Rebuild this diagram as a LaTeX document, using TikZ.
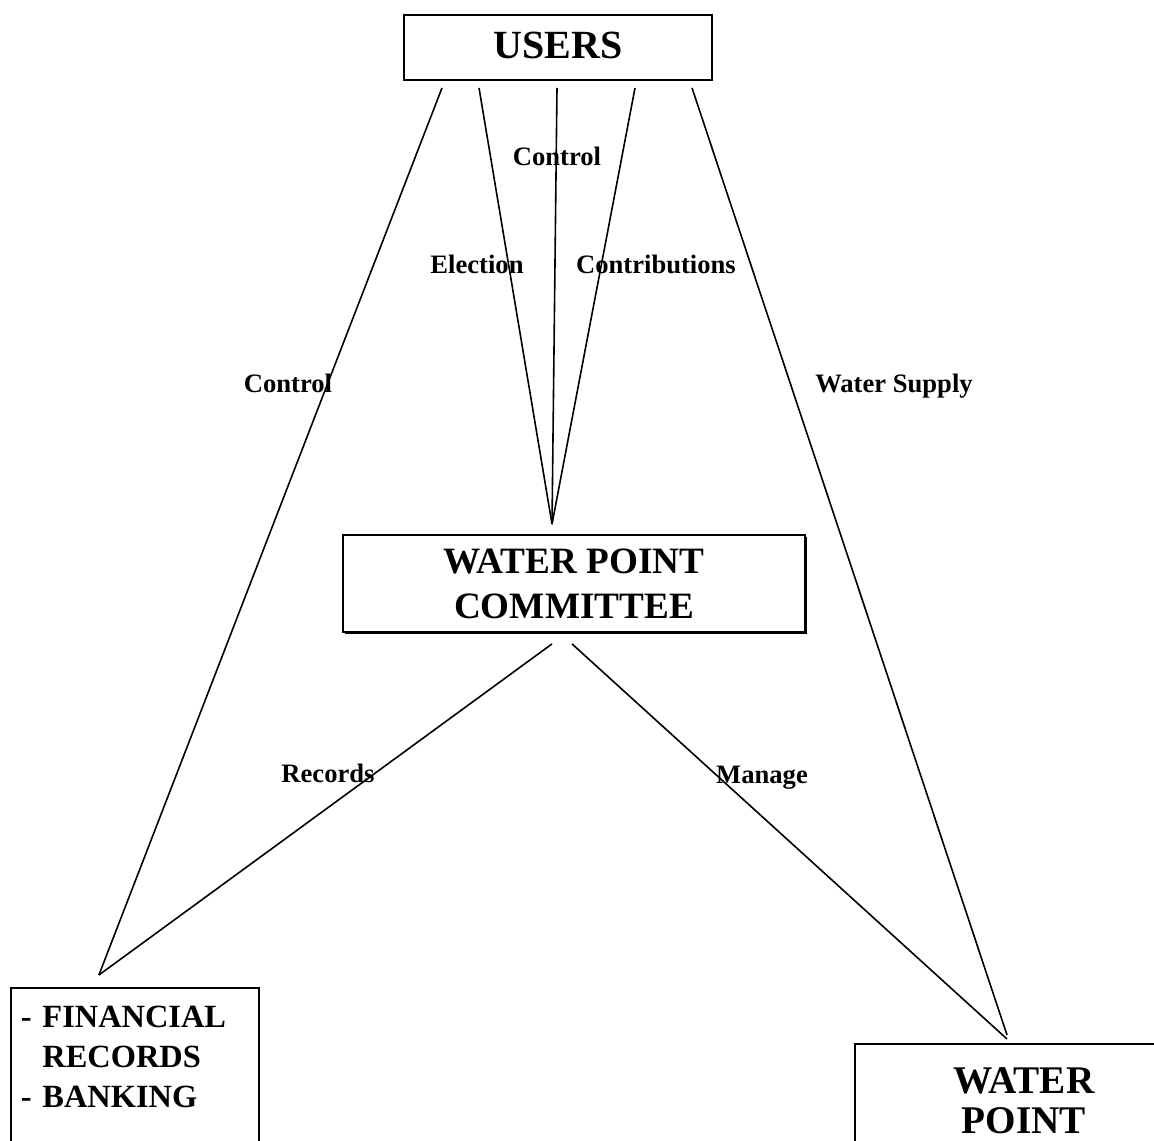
\documentclass[tikz,border=0pt]{standalone}
\usepackage{fontspec}
\setmainfont{Liberation Serif}
\usetikzlibrary{shadows}
\tikzstyle{boxnode} = [rectangle, draw=black, line width=0.9pt, fill=white]
\tikzstyle{shadowed} = [drop shadow={shadow xshift=1.2pt, shadow yshift=-1.2pt, fill=black, opacity=1}]
\tikzstyle{plaintext} = [anchor=base, inner sep=0pt, font=\bfseries\fontsize{13.3}{16}\selectfont]
\tikzstyle{connector} = [line width=0.8pt]

\begin{document}
\begin{tikzpicture}[x=0.5pt, y=-0.5pt]
        \useasboundingbox (0,0) rectangle (1154,1140);
        \clip (0,0) rectangle (1154,1140);
        \node (users) [boxnode, minimum width=154pt, minimum height=32.5pt, text depth=2pt, font=\bfseries\fontsize{20}{24}\selectfont] at (558,47.5) {USERS};
        \node (committee) [boxnode, shadowed, minimum width=231pt, minimum height=48.5pt, align=center, font=\bfseries\fontsize{18.6}{22.5}\selectfont] at (574,583.5) {WATER POINT\\COMMITTEE};
        \node (records) [boxnode, anchor=north west, text width=114pt, inner xsep=5pt, inner ysep=9pt, align=left, font=\bfseries\fontsize{16.2}{20}\selectfont] at (10,987) {- FINANCIAL\\\hphantom{- }RECORDS\\- BANKING\rule[-24pt]{0pt}{24pt}};
        \node (point) [boxnode, anchor=north, minimum width=169pt, inner ysep=12pt, align=center, font=\bfseries\fontsize{19.6}{20}\selectfont] at (1024,1043) {WATER\\POINT\rule[-24pt]{0pt}{24pt}};

        \node (control) [plaintext] at (557,165) {Control};
        \node (election) [plaintext] at (477,273) {Election};
        \node (contributions) [plaintext] at (656,273) {Contributions};
        \node (oversight) [plaintext] at (288,392) {Control};
        \node (supply) [plaintext] at (894,392) {Water Supply};
        \node (bookkeeping) [plaintext] at (328,782) {Records};
        \node (manage) [plaintext] at (762,783) {Manage};

        \draw [connector] ([shift={(-116,7)}]users.south) -- ([shift={(-36,-12)}]records.north);
        \draw [connector] ([shift={(-79,7)}]users.south) -- ([shift={(-22,-10)}]committee.north);
        \draw [connector] ([shift={(-1,7)}]users.south) -- ([shift={(-22,-10)}]committee.north);
        \draw [connector] ([shift={(77,7)}]users.south) -- ([shift={(-22,-10)}]committee.north);
        \draw [connector] ([shift={(134,7)}]users.south) -- ([shift={(-17,-8)}]point.north);
        \draw [connector] ([shift={(-22,11)}]committee.south) -- ([shift={(-36,-12)}]records.north);
        \draw [connector] ([shift={(-2,11)}]committee.south) -- ([shift={(-17,-4)}]point.north);
    \end{tikzpicture}
\end{document}
